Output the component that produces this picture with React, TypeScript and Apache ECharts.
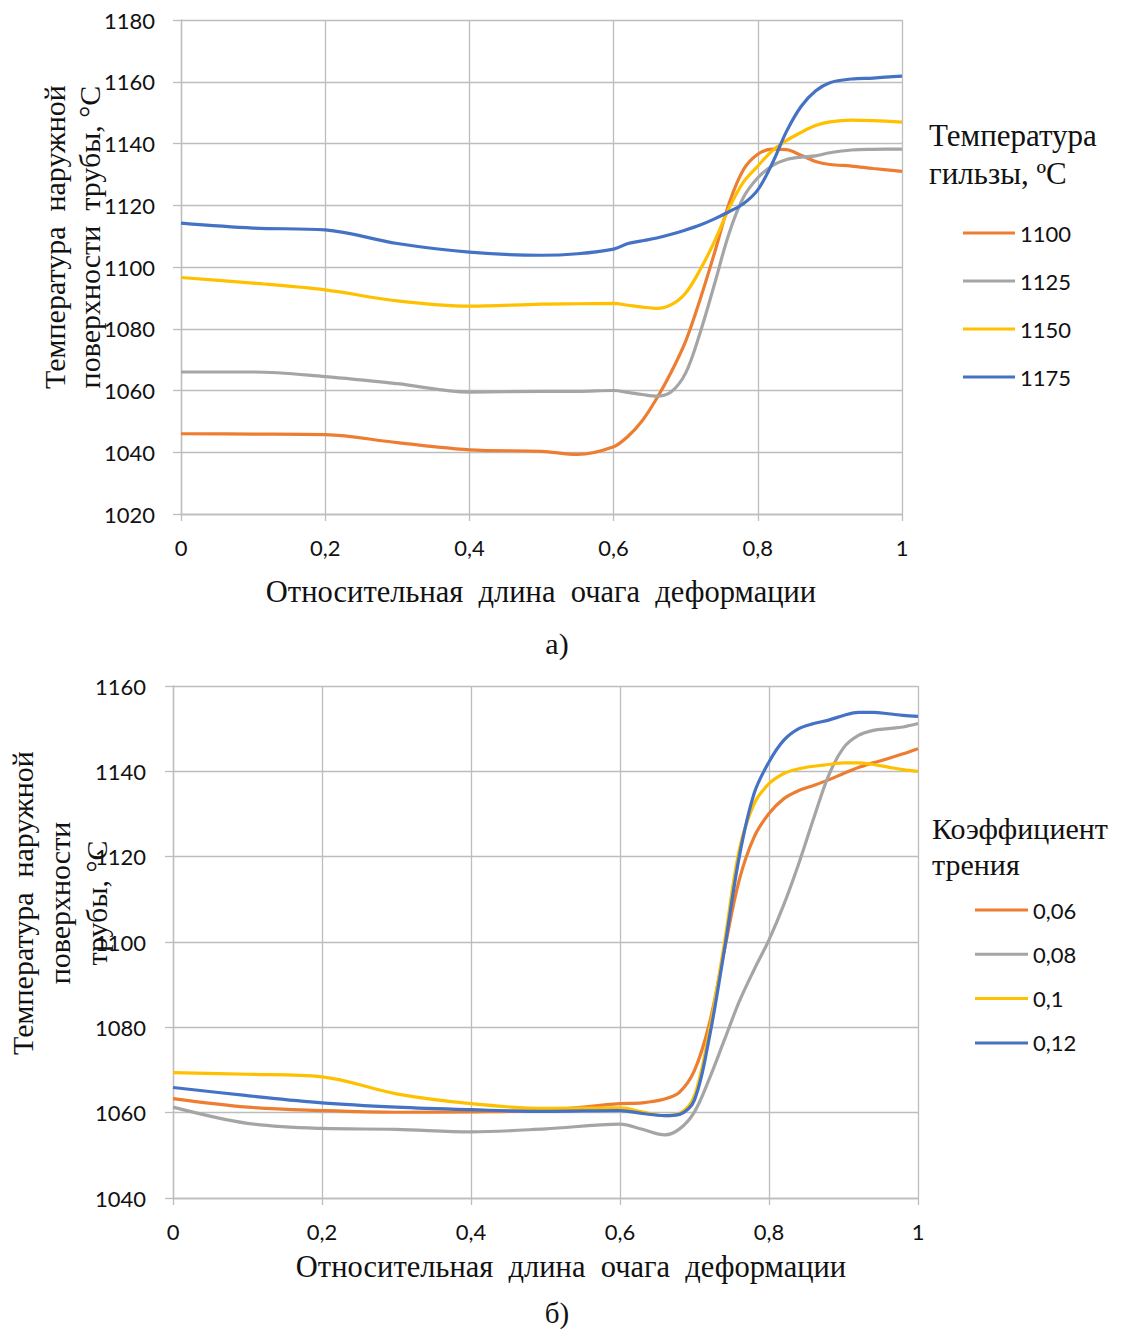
import React, { useEffect, useRef } from "react";
import * as echarts from "echarts";

// ---------- Chart a) ----------
const X_A = [0, 0.1, 0.2, 0.3, 0.4, 0.5, 0.55, 0.6, 0.62, 0.64, 0.66, 0.68, 0.7, 0.72, 0.74, 0.76, 0.78, 0.8, 0.82, 0.84, 0.86, 0.88, 0.9, 0.93, 0.96, 1.0];
const A_1100 = [1046, 1045.9, 1045.7, 1043.1, 1040.8, 1040.3, 1039.3, 1041.8, 1045.2, 1050.3, 1057.5, 1066, 1076, 1089.5, 1104.6, 1120.5, 1131.5, 1136.5, 1138.2, 1138.0, 1136.2, 1134.2, 1133.2, 1132.7, 1131.9, 1131.0];
const A_1125 = [1066, 1066, 1064.5, 1062.2, 1059.5, 1059.7, 1059.7, 1060.0, 1059.4, 1058.7, 1058.2, 1059.6, 1065.7, 1078.7, 1094.5, 1110.8, 1122.5, 1128.9, 1132.8, 1134.8, 1135.6, 1136.0, 1137.0, 1137.9, 1138.1, 1138.2];
const A_1150 = [1096.6, 1094.8, 1092.6, 1089.0, 1087.3, 1088.0, 1088.1, 1088.2, 1087.6, 1087.0, 1086.6, 1087.8, 1091.6, 1099.1, 1108.3, 1119.0, 1127.5, 1132.7, 1137.6, 1141.0, 1143.6, 1145.8, 1147.0, 1147.6, 1147.4, 1146.9];
const A_1175 = [1114.2, 1112.6, 1112.0, 1107.6, 1104.8, 1103.8, 1104.3, 1105.8, 1107.6, 1108.5, 1109.4, 1110.6, 1112.0, 1113.6, 1115.6, 1117.9, 1120.5, 1125.0, 1133.5, 1144.0, 1152.0, 1157.0, 1159.7, 1160.9, 1161.2, 1161.8];
const NAMES_A = ["1100", "1125", "1150", "1175"];
const TICKS_X = [0, 0.2, 0.4, 0.6, 0.8, 1];

// ---------- Chart б) ----------
const X_B = [0, 0.1, 0.2, 0.3, 0.4, 0.5, 0.6, 0.63, 0.66, 0.68, 0.7, 0.72, 0.74, 0.76, 0.78, 0.8, 0.82, 0.84, 0.86, 0.88, 0.9, 0.92, 0.94, 0.96, 0.98, 1.0];
const B_006 = [1063.3, 1061.3, 1060.5, 1060.1, 1060.2, 1060.6, 1062.1, 1062.3, 1063.2, 1064.8, 1069.9, 1080.9, 1098.0, 1114.5, 1124.6, 1130.1, 1133.6, 1135.5, 1136.7, 1138.0, 1139.5, 1140.9, 1142.0, 1143.0, 1144.1, 1145.3];
const B_008 = [1061.3, 1057.5, 1056.3, 1056.1, 1055.5, 1056.2, 1057.3, 1056.1, 1054.8, 1056.2, 1060.2, 1068.0, 1077.0, 1086.0, 1093.5, 1100.5, 1108.8, 1118.4, 1129.0, 1139.0, 1145.5, 1148.4, 1149.6, 1150.0, 1150.4, 1151.2];
const B_010 = [1069.4, 1069.0, 1068.4, 1064.4, 1062.1, 1061.0, 1061.1, 1060.2, 1059.3, 1059.8, 1064.0, 1079.3, 1099.6, 1121.5, 1132.4, 1137.1, 1139.5, 1140.6, 1141.2, 1141.6, 1142.0, 1142.0, 1141.6, 1141.0, 1140.4, 1140.0];
const B_012 = [1065.9, 1064.0, 1062.3, 1061.3, 1060.7, 1060.3, 1060.5, 1059.8, 1059.3, 1059.6, 1063.0, 1077.7, 1098.0, 1119.9, 1134.8, 1142.2, 1147.3, 1150.0, 1151.2, 1152.0, 1153.1, 1153.8, 1153.8, 1153.5, 1153.1, 1152.9];
const NAMES_B = ["0,06", "0,08", "0,1", "0,12"];

const COLORS = ["#ED7D31", "#A5A5A5", "#FFC000", "#4472C4"];
const SERIF = "'Liberation Serif', 'Times New Roman', serif";
const SANS = "Lato, 'Open Sans', sans-serif";
const GRID_COLOR = "#bdbdbd";

const fmtX = (v: number) => String(+v.toFixed(1)).replace(".", ",");

function makeXAxis(gridIndex: number) {
  return {
    gridIndex,
    type: "value",
    min: 0,
    max: 1,
    interval: 0.2,
    axisLine: { show: true, lineStyle: { color: GRID_COLOR, width: 1.3 } },
    axisTick: { show: true, length: 7, lineStyle: { color: GRID_COLOR, width: 1.3 } },
    splitLine: { show: true, lineStyle: { color: GRID_COLOR, width: 1.3 } },
    axisLabel: {
      formatter: (v: number) => (TICKS_X.some((t) => Math.abs(t - v) < 1e-6) ? fmtX(v) : ""),
      fontFamily: SANS,
      fontSize: 22,
      color: "#111",
      margin: 22,
    },
  };
}

function makeYAxis(gridIndex: number, min: number, max: number, margin: number) {
  return {
    gridIndex,
    type: "value",
    min,
    max,
    interval: 20,
    axisLine: { show: true, lineStyle: { color: GRID_COLOR, width: 1.3 } },
    axisTick: { show: true, length: 8, lineStyle: { color: GRID_COLOR, width: 1.3 } },
    splitLine: { show: true, lineStyle: { color: GRID_COLOR, width: 1.3 } },
    axisLabel: { formatter: (v: number) => String(Math.round(v)), fontFamily: SANS, fontSize: 22, color: "#111", margin },
  };
}

function makeSeries(name: string, xs: number[], ys: number[], color: string, idx: number) {
  return {
    name,
    type: "line",
    xAxisIndex: idx,
    yAxisIndex: idx,
    data: xs.map((x, i) => [x, ys[i]]),
    symbol: "none",
    smooth: 0.35,
    lineStyle: { color, width: 3.2 },
    itemStyle: { color },
    emphasis: { disabled: true },
  };
}

export default function App() {
  const ref = useRef<HTMLDivElement>(null);
  useEffect(() => {
    document.body.style.margin = "0";
    if (!ref.current) return;
    const chart = echarts.init(ref.current, undefined, { renderer: "svg" });
    const seriesA = [A_1100, A_1125, A_1150, A_1175].map((d, i) => makeSeries(NAMES_A[i], X_A, d, COLORS[i], 0));
    const seriesB = [B_006, B_008, B_010, B_012].map((d, i) => makeSeries(NAMES_B[i], X_B, d, COLORS[i], 1));
    const legendBase = {
      orient: "vertical",
      padding: 0,
      icon: "rect",
      itemHeight: 3,
      selectedMode: false,
      textStyle: { fontFamily: SANS, fontSize: 22, color: "#111" },
    };
    chart.setOption({
      animation: false,
      backgroundColor: "#ffffff",
      grid: [
        { left: 181, top: 20, width: 721, height: 494 },
        { left: 173, top: 686, width: 745, height: 512 },
      ],
      xAxis: [makeXAxis(0), makeXAxis(1)],
      yAxis: [makeYAxis(0, 1020, 1180, 26), makeYAxis(1, 1040, 1160, 27)],
      legend: [
        { ...legendBase, data: NAMES_A, left: 963, top: 222, itemWidth: 52, itemGap: 26 },
        { ...legendBase, data: NAMES_B, left: 975, top: 899, itemWidth: 53, itemGap: 22.3 },
      ],
      series: [...seriesA, ...seriesB],
      graphic: [
        {
          type: "text",
          x: 72,
          y: 237,
          rotation: Math.PI / 2,
          style: {
            text: "Температура  наружной\nповерхности  трубы, °C",
            font: `30px ${SERIF}`,
            fill: "#111",
            align: "center",
            verticalAlign: "middle",
            lineHeight: 35,
          },
        },
        {
          type: "text",
          x: 59,
          y: 903,
          rotation: Math.PI / 2,
          style: {
            text: "Температура  наружной\nповерхности\nтрубы, °C",
            font: `30px ${SERIF}`,
            fill: "#111",
            align: "center",
            verticalAlign: "middle",
            lineHeight: 37,
          },
        },
        {
          type: "text",
          x: 541,
          y: 592,
          style: { text: "Относительная  длина  очага  деформации", font: `30.5px ${SERIF}`, fill: "#111", align: "center", verticalAlign: "middle" },
        },
        {
          type: "text",
          x: 571,
          y: 1267,
          style: { text: "Относительная  длина  очага  деформации", font: `30.5px ${SERIF}`, fill: "#111", align: "center", verticalAlign: "middle" },
        },
        {
          type: "text",
          x: 557,
          y: 643,
          style: { text: "а)", font: `30px ${SERIF}`, fill: "#111", align: "center", verticalAlign: "middle" },
        },
        {
          type: "text",
          x: 557,
          y: 1313,
          style: { text: "б)", font: `29px ${SERIF}`, fill: "#111", align: "center", verticalAlign: "middle" },
        },
        {
          type: "text",
          x: 929,
          y: 154,
          style: { text: "Температура\nгильзы, ºC", font: `31px ${SERIF}`, fill: "#111", align: "left", verticalAlign: "middle", lineHeight: 38 },
        },
        {
          type: "text",
          x: 932,
          y: 846,
          style: { text: "Коэффициент\nтрения", font: `30px ${SERIF}`, fill: "#111", align: "left", verticalAlign: "middle", lineHeight: 36 },
        },
      ],
    });
    return () => chart.dispose();
  }, []);
  return <div ref={ref} style={{ width: 1129, height: 1330 }} />;
}
